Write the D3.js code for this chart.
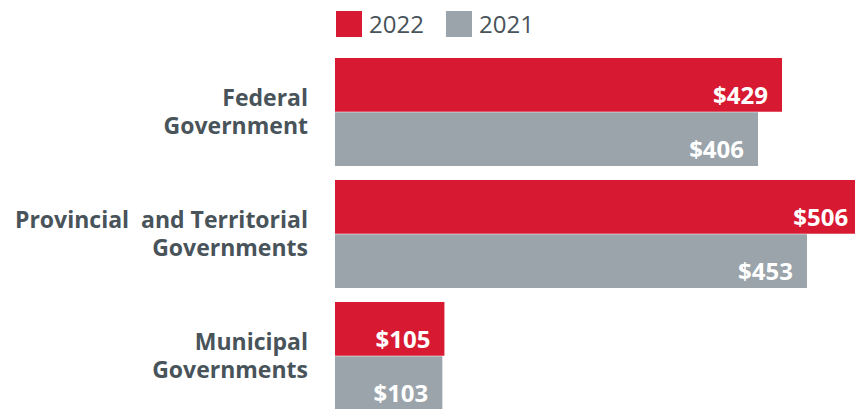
<!DOCTYPE html>
<html><head><meta charset="utf-8">
<script src="https://cdn.jsdelivr.net/npm/d3@7"></script>
<style>
html,body{margin:0;padding:0;background:#fff;overflow:hidden;}
svg{display:block;}
text{font-family:"Open Sans",sans-serif;}
</style></head>
<body>
<svg id="chart" width="855" height="409"></svg>
<script>
const categories = [
  ["Federal", "Government"],
  ["Provincial  and Territorial", "Governments"],
  ["Municipal", "Governments"]
];
const seriesNames = ["2022", "2021"];
const values2022 = [429, 506, 105];
const values2021 = [406, 453, 103];
const seriesColors = ["#d71a32", "#9aa4aa"];
const labelColor = "#48535a";

const svg = d3.select("#chart");
const keys = categories.map((c, i) => i);

const x = d3.scaleLinear().domain([0, 429]).range([335, 782]);
const y = d3.scaleBand().domain(keys).range([58, 410]).paddingInner(14 / 122).paddingOuter(0);
const ySub = d3.scaleBand().domain(seriesNames).range([0, y.bandwidth()]).paddingInner(0.01);

const series = [values2022, values2021];

const groups = svg.selectAll("g.grp").data(keys).join("g")
  .attr("class", "grp")
  .attr("transform", d => `translate(0,${y(d)})`);

seriesNames.forEach((s, si) => {
  groups.append("rect")
    .attr("x", x(0))
    .attr("y", ySub(s))
    .attr("width", d => x(series[si][d]) - x(0))
    .attr("height", ySub.bandwidth())
    .attr("fill", seriesColors[si]);
  groups.append("text")
    .attr("x", d => x(series[si][d]) - 14)
    .attr("y", ySub(s) + ySub.bandwidth() - 8)
    .attr("text-anchor", "end")
    .attr("fill", "#fff")
    .attr("font-weight", 700)
    .attr("font-size", 24)
    .text(d => "$" + series[si][d]);
});

// category labels
groups.append("text")
  .attr("text-anchor", "end")
  .attr("fill", labelColor)
  .attr("font-weight", 700)
  .attr("font-size", 23)
  .attr("xml:space", "preserve")
  .style("white-space", "pre")
  .each(function (d) {
    const t = d3.select(this);
    const lines = categories[d];
    const lh = 28;
    const mid = y.bandwidth() / 2;
    lines.forEach((ln, li) => {
      t.append("tspan")
        .attr("x", 308)
        .attr("y", mid + (li - (lines.length - 1) / 2) * lh + 8)
        .text(ln);
    });
  });

// legend
const legend = svg.append("g");
const lx = d3.scalePoint().domain(seriesNames).range([336, 446]);
seriesNames.forEach((s, si) => {
  legend.append("rect").attr("x", lx(s)).attr("y", 11).attr("width", 26).attr("height", 26).attr("fill", seriesColors[si]);
  legend.append("text").attr("x", lx(s) + 33).attr("y", 33).attr("fill", labelColor)
    .attr("font-size", 24).text(s);
});
</script>
</body></html>
